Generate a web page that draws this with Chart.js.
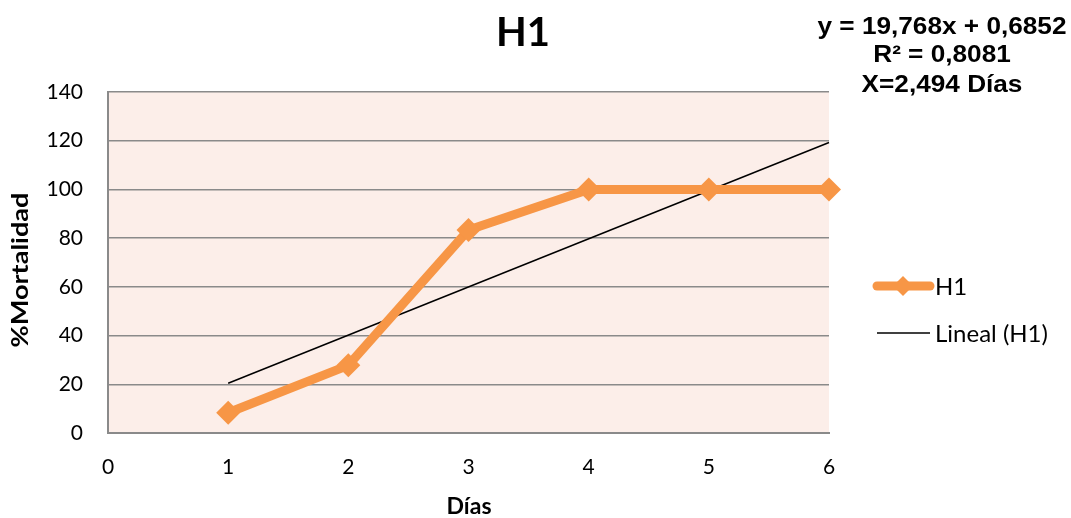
<!DOCTYPE html>
<html>
<head>
<meta charset="utf-8">
<script src="https://cdn.jsdelivr.net/npm/chart.js@4.4.1/dist/chart.umd.min.js"></script>
<style>
  html, body { margin: 0; padding: 0; background: #ffffff; }
  #wrap { width: 1071px; height: 518px; position: relative; }
</style>
</head>
<body>
<div id="wrap"><canvas id="c" width="1071" height="518"></canvas></div>
<script>
// Mortality (%) per day for H1
const dias = [1, 2, 3, 4, 5, 6];
const mortalidad = [8.33, 27.78, 83.33, 100, 100, 100];

// Linear trend as reported: y = 19,768x + 0,6852
const pendiente = 19.768;
const intercepto = 0.6852;
const tendenciaX = [1, 6];

const yTicks = [0, 20, 40, 60, 80, 100, 120, 140];
const xTicks = [0, 1, 2, 3, 4, 5, 6];

const tituloGrafico = 'H1';
const ecuacionTexto = ['y = 19,768x + 0,6852', 'R² = 0,8081', 'X=2,494 Días'];
const serieNombre = 'H1';
const tendenciaNombre = 'Lineal (H1)';
const tituloY = '%Mortalidad';
const tituloX = 'Días';

const ORANGE = '#F79646';
const GRID = '#8a8a8a';
const PLOT_BG = '#FCEEE9';

const serie = dias.map((d, i) => ({ x: d, y: mortalidad[i] }));
const tendencia = tendenciaX.map(x => ({ x: x, y: pendiente * x + intercepto }));

const plotBg = {
  id: 'plotBg',
  beforeDraw(chart) {
    const { ctx, chartArea: a } = chart;
    ctx.save();
    ctx.fillStyle = PLOT_BG;
    ctx.fillRect(a.left, a.top, a.right - a.left, a.bottom - a.top);
    ctx.restore();
  }
};

// draws text centred at (x, y), stretched horizontally to the given width
function stretchedText(ctx, text, x, y, width) {
  const w = ctx.measureText(text).width;
  ctx.save();
  ctx.translate(x, y);
  ctx.scale(width / w, 1);
  ctx.fillText(text, 0, 0);
  ctx.restore();
}

const textos = {
  id: 'textos',
  afterDraw(chart) {
    const { ctx } = chart;
    ctx.save();
    ctx.fillStyle = '#000';
    ctx.textAlign = 'center';
    ctx.textBaseline = 'middle';
    // title
    ctx.font = 'bold 40px Lato';
    ctx.fillText(tituloGrafico, 523, 33);
    // equation box
    ctx.font = 'bold 24px "Liberation Sans"';
    const ys = [27, 55, 85];
    const k = 249 / ctx.measureText(ecuacionTexto[0]).width;
    ecuacionTexto.forEach((t, i) => {
      stretchedText(ctx, t, 942, ys[i], ctx.measureText(t).width * k);
    });

    // axis titles
    ctx.font = 'bold 22px Lato';
    ctx.save();
    ctx.translate(21, 270);
    ctx.rotate(-Math.PI / 2);
    stretchedText(ctx, tituloY, 0, 0, 155);
    ctx.restore();
    stretchedText(ctx, tituloX, 469, 507, 45);

    // legend
    ctx.textAlign = 'left';
    ctx.font = '24px Lato';
    ctx.strokeStyle = ORANGE;
    ctx.lineWidth = 9;
    ctx.lineCap = 'round';
    ctx.beginPath();
    ctx.moveTo(877, 286);
    ctx.lineTo(930, 286);
    ctx.stroke();
    ctx.fillStyle = ORANGE;
    ctx.beginPath();
    ctx.moveTo(903, 276);
    ctx.lineTo(913, 286);
    ctx.lineTo(903, 296);
    ctx.lineTo(893, 286);
    ctx.closePath();
    ctx.fill();
    ctx.fillStyle = '#000';
    ctx.fillText(serieNombre, 935, 287);
    ctx.strokeStyle = '#000';
    ctx.lineWidth = 1.5;
    ctx.lineCap = 'butt';
    ctx.beginPath();
    ctx.moveTo(877, 333);
    ctx.lineTo(930, 333);
    ctx.stroke();
    ctx.fillText(tendenciaNombre, 935, 334);
    ctx.restore();
  }
};

new Chart(document.getElementById('c'), {
  type: 'scatter',
  data: {
    datasets: [
      {
        label: tendenciaNombre,
        data: tendencia,
        showLine: true,
        borderColor: '#000',
        borderWidth: 1.5,
        pointRadius: 0,
        clip: false,
        order: 2
      },
      {
        label: serieNombre,
        data: serie,
        showLine: true,
        borderColor: ORANGE,
        backgroundColor: ORANGE,
        borderWidth: 9,
        borderJoinStyle: 'round',
        pointStyle: 'rectRot',
        pointRadius: 12,
        pointBorderWidth: 0,
        pointBackgroundColor: ORANGE,
        clip: false,
        order: 1
      }
    ]
  },
  options: {
    responsive: false,
    animation: false,
    events: [],
    layout: { padding: { left: 0, right: 242, top: 92, bottom: 0 } },
    plugins: {
      legend: { display: false },
      title: { display: false },
      tooltip: { enabled: false }
    },
    scales: {
      x: {
        type: 'linear',
        min: 0,
        max: 6,
        afterBuildTicks(s) { s.ticks = xTicks.map(v => ({ value: v })); },
        afterFit(s) { s.height = 85; },
        grid: { display: false, drawTicks: false },
        border: { display: true, color: GRID, width: 2 },
        ticks: { color: '#000', font: { family: 'Lato', size: 21 }, padding: 22 }
      },
      y: {
        type: 'linear',
        min: 0,
        max: 140,
        afterBuildTicks(s) { s.ticks = yTicks.map(v => ({ value: v })); },
        afterFit(s) { s.width = 108; },
        grid: { color: GRID, lineWidth: 1.5, drawTicks: false },
        border: { display: true, color: GRID, width: 2 },
        ticks: { color: '#000', font: { family: 'Lato', size: 21 }, padding: 25 }
      }
    }
  },
  plugins: [plotBg, textos]
});
</script>
</body>
</html>
